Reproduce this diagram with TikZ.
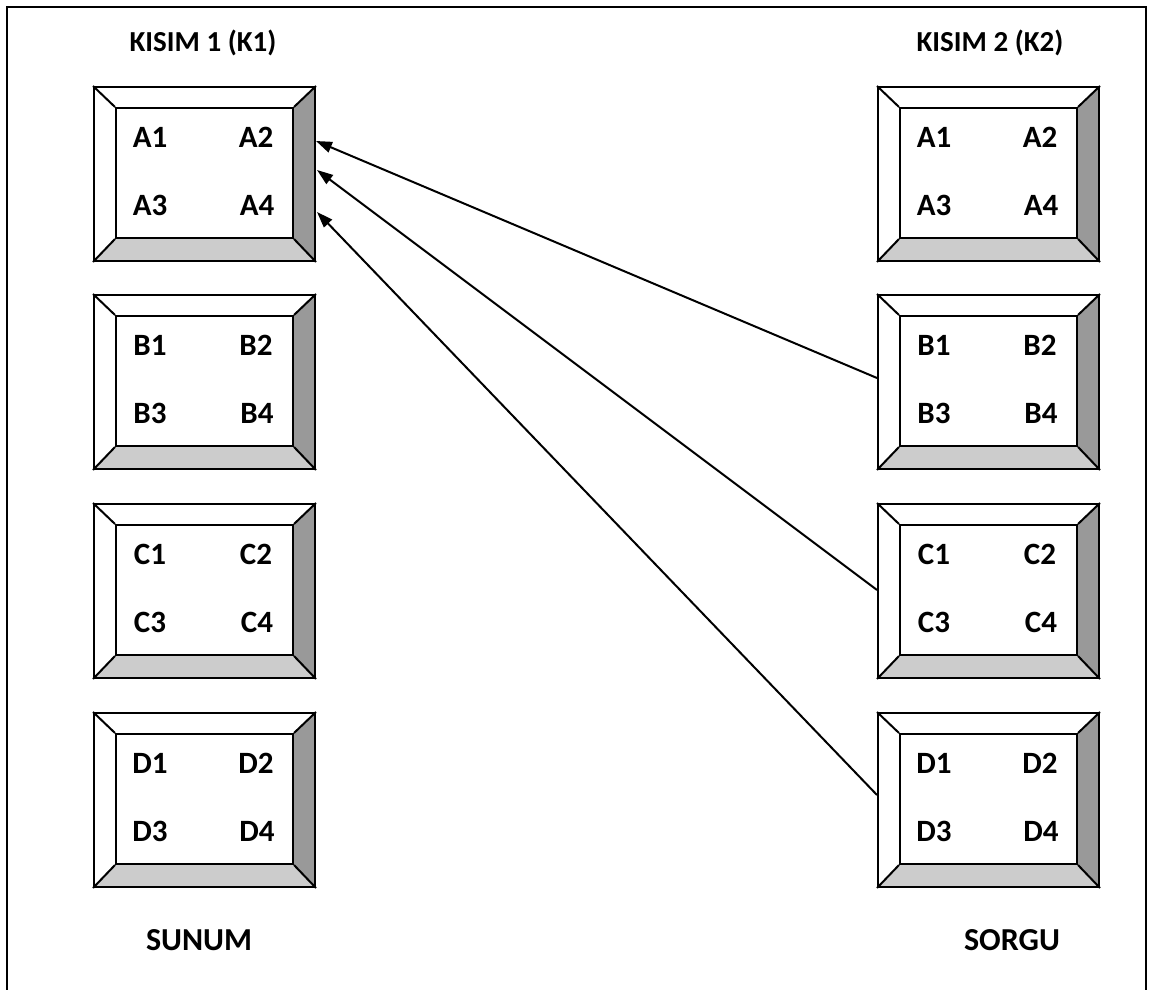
\documentclass[tikz,border=0pt]{standalone}
\usepackage{fontspec}
\setmainfont{Carlito}
\usetikzlibrary{arrows.meta}
\tikzset{
  boxline/.style={line width=2pt, line join=miter},
  cell/.style={font=\fontsize{31}{31}\selectfont\bfseries, inner sep=0pt, anchor=center},
  title/.style={font=\fontsize{29}{29}\selectfont\bfseries, inner sep=0pt, anchor=center},
  footer/.style={font=\fontsize{32}{32}\selectfont\bfseries, inner sep=0pt, anchor=center},
  link/.style={line width=2pt, -{Triangle[length=16pt,width=11pt]}},
}
\newcommand\bevbox[4]{%
  \begin{scope}[shift={(#2,#3)}]
    \fill[white] (0,0) -- (221,0) -- (199,21) -- (22,21) -- cycle;
    \fill[white] (0,0) -- (22,21) -- (22,151) -- (0,174) -- cycle;
    \fill[black!40] (221,0) -- (221,174) -- (199,151) -- (199,21) -- cycle;
    \fill[black!20] (0,174) -- (221,174) -- (199,151) -- (22,151) -- cycle;
    \node[boxline, draw, minimum width=177pt, minimum height=130pt, inner sep=0pt] (#1-in) at (110.5,86) {};
    \node[boxline, draw, minimum width=221pt, minimum height=174pt, inner sep=0pt] (#1) at (110.5,87) {};
    \draw[boxline] (#1.north west) -- (#1-in.north west)
                   (#1.north east) -- (#1-in.north east)
                   (#1.south west) -- (#1-in.south west)
                   (#1.south east) -- (#1-in.south east);
    \node[cell] (#1-1) at (56,50) {#41};
    \node[cell] (#1-2) at (162,50) {#42};
    \node[cell] (#1-3) at (56,118) {#43};
    \node[cell] (#1-4) at (163,118) {#44};
  \end{scope}%
}
\begin{document}
\begin{tikzpicture}[x=1pt,y=-1pt]
  \useasboundingbox (0,0) rectangle (1149,990);
  \clip (0,0) rectangle (1149,990);
  \fill[white] (0,0) rectangle (1149,990);
  \draw[line width=2pt] (7,7) rectangle (1146,1010);

  \node[title] (t1) at (203,43) {KISIM 1 (K1)};
  \node[title] (t2) at (990,43) {KISIM 2 (K2)};

  \bevbox{lA}{94}{87}{A}
  \bevbox{lB}{94}{295}{B}
  \bevbox{lC}{94}{504}{C}
  \bevbox{lD}{94}{713}{D}
  \bevbox{rA}{878}{87}{A}
  \bevbox{rB}{878}{295}{B}
  \bevbox{rC}{878}{504}{C}
  \bevbox{rD}{878}{713}{D}

  \node[footer] (f1) at (199,940) {SUNUM};
  \node[footer] (f2) at (1012,940) {SORGU};

  \coordinate (s1) at (877,378);
  \coordinate (s2) at (877,590);
  \coordinate (s3) at (877,795);
  \coordinate (e1) at (316,141);
  \coordinate (e2) at (317,170);
  \coordinate (e3) at (317,212);
  \draw[link] (s1) -- (e1);
  \draw[link] (s2) -- (e2);
  \draw[link] (s3) -- (e3);
\end{tikzpicture}
\end{document}
